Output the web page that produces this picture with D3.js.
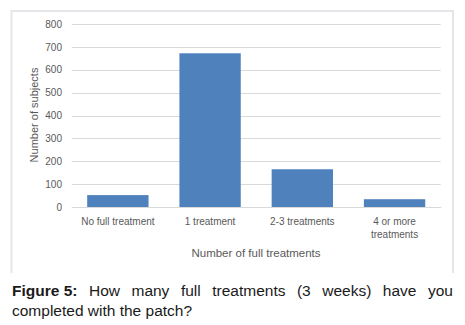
<!DOCTYPE html>
<html><head><meta charset="utf-8">
<script src="https://cdn.jsdelivr.net/npm/d3@7"></script>
<style>html,body{margin:0;padding:0;background:#fff;}svg{display:block;}</style>
</head><body>
<script>
const categories = ["No full treatment", "1 treatment", "2-3 treatments", "4 or more treatments"];
const categoryLines = [["No full treatment"], ["1 treatment"], ["2-3 treatments"], ["4 or more", "treatments"]];
const values = [52, 672, 165, 34];
const yTicks = [0, 100, 200, 300, 400, 500, 600, 700, 800];
const xTitle = "Number of full treatments";
const yTitle = "Number of subjects";
const captionBold = "Figure 5:";
const captionLine1 = "How many full treatments (3 weeks) have you";
const captionLine2 = "completed with the patch?";

const W = 465, H = 325;
const svg = d3.select("body").append("svg").attr("width", W).attr("height", H);

// chart frame (open at bottom, cropped)
const frame = svg.append("g").attr("stroke", "#e6e6ea").attr("stroke-width", 2).attr("fill", "none");
frame.append("path").attr("d", "M11.5,273 L11.5,11 L453,11 L453,273");

const x = d3.scaleBand().domain(categories).range([71.7, 440.7]).paddingInner(0.335).paddingOuter(0.168);
const y = d3.scaleLinear().domain([0, 800]).range([207, 24]);

// gridlines
svg.append("g").selectAll("line").data(yTicks).join("line")
  .attr("x1", 71.7).attr("x2", 440.7)
  .attr("y1", d => Math.round(y(d)) + 0.5).attr("y2", d => Math.round(y(d)) + 0.5)
  .attr("stroke", "#d9d9d9").attr("stroke-width", 1);

// bars
svg.append("g").selectAll("rect").data(values).join("rect")
  .attr("x", (d, i) => x(categories[i]))
  .attr("width", x.bandwidth())
  .attr("y", d => y(d))
  .attr("height", d => y(0) - y(d))
  .attr("fill", "#4f81bd");

// y axis
const yAxis = d3.axisLeft(y).tickValues(yTicks).tickSize(0).tickPadding(0);
const yg = svg.append("g").attr("transform", "translate(62,0)").call(yAxis);
yg.select(".domain").remove();
yg.selectAll("text").attr("fill", "#595959").style("font-family", "Liberation Sans, Arial, sans-serif").style("font-size", "10px");

// x axis
const xAxis = d3.axisBottom(x).tickSize(0).tickFormat("");
const xg = svg.append("g").attr("transform", "translate(0,207)").call(xAxis);
xg.select(".domain").attr("stroke", "#d9d9d9");
categories.forEach((c, i) => {
  const t = svg.append("text").attr("x", x(c) + x.bandwidth() / 2).attr("text-anchor", "middle")
    .attr("fill", "#595959").style("font-family", "Liberation Sans, Arial, sans-serif").style("font-size", "10px");
  categoryLines[i].forEach((ln, j) => {
    t.append("tspan").attr("x", x(c) + x.bandwidth() / 2).attr("y", 225 + j * 13).text(ln);
  });
});

// axis titles
svg.append("text").attr("x", 256).attr("y", 257).attr("text-anchor", "middle")
  .attr("fill", "#595959").style("font-family", "Liberation Sans, Arial, sans-serif").style("font-size", "11.5px").text(xTitle);
svg.append("text").attr("transform", "translate(38,115) rotate(-90)").attr("text-anchor", "middle")
  .attr("fill", "#595959").style("font-family", "Liberation Sans, Arial, sans-serif").style("font-size", "11px").text(yTitle);

// caption, justified first line
const capFont = "Liberation Sans, Arial, sans-serif";
const capSize = "15.5px";
const left = 12, right = 453;
const words = [{t: captionBold, b: true}].concat(captionLine1.split(" ").map(w => ({t: w, b: false})));
const cap = svg.append("g").attr("fill", "#1a1a1a").style("font-family", capFont).style("font-size", capSize);
const nodes = words.map(w => cap.append("text").attr("y", 296).attr("font-weight", w.b ? "bold" : "normal").text(w.t));
const widths = nodes.map(n => n.node().getComputedTextLength());
const total = d3.sum(widths);
const gap = (right - left - total) / (words.length - 1);
let cx = left;
nodes.forEach((n, i) => { n.attr("x", cx); cx += widths[i] + gap; });
cap.append("text").attr("x", left).attr("y", 316).text(captionLine2);
</script>
</body></html>
